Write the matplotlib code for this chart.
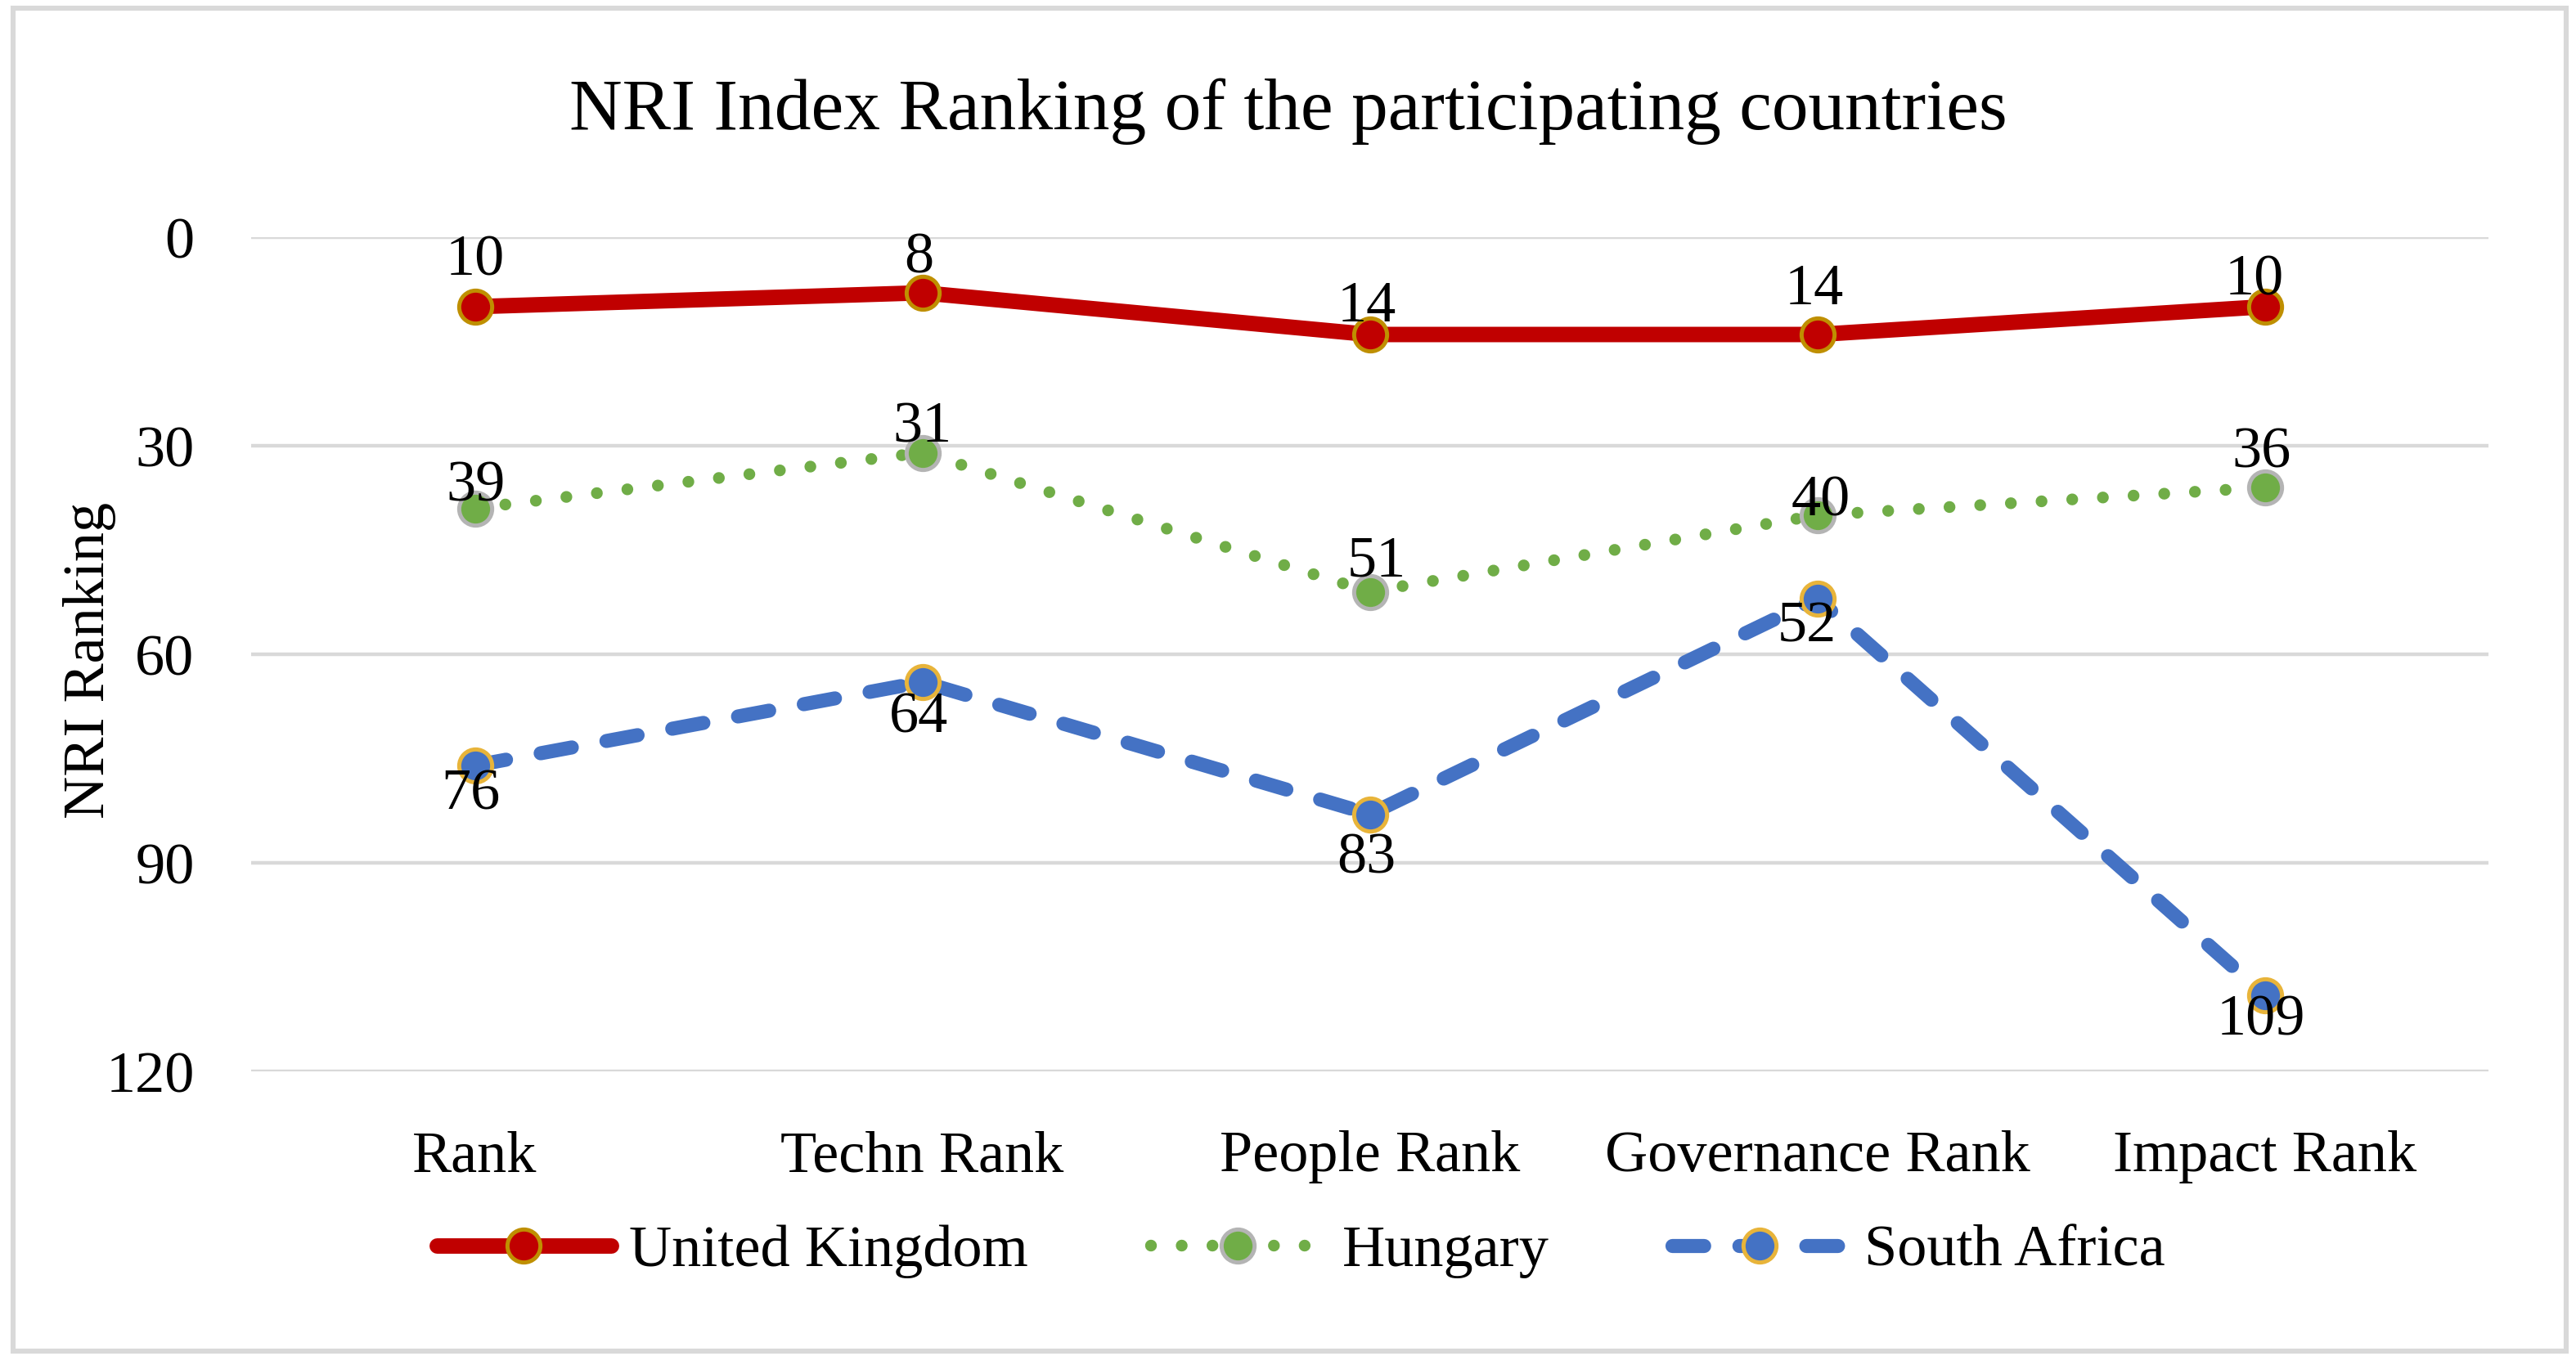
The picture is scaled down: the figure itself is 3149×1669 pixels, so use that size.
import matplotlib
matplotlib.use("Agg")
import matplotlib.pyplot as plt
from matplotlib.patches import Rectangle

categories = ["Rank", "Techn Rank", "People Rank", "Governance Rank", "Impact Rank"]
series_names = ["United Kingdom", "Hungary", "South Africa"]
uk_values = [10, 8, 14, 14, 10]
hu_values = [39, 31, 51, 40, 36]
sa_values = [76, 64, 83, 52, 109]
y_ticks = [0, 30, 60, 90, 120]

# label offsets in points (layout only)
uk_dx = [0, -1.5, -1.5, -1.5, -4.5]
uk_dy = [20, 15, 12, 19.5, 11.5]
hu_dx = [0.5, 0, 3, 1.5, -1.5]
hu_dy = [9.5, 11, 13, 6, 15]
sa_dx = [-2, -1.5, -1.5, -4.5, -1.5]
sa_dy = [-13, -16, -19.5, -12.5, -11.5]

FONT = ["Liberation Serif", "DejaVu Serif"]
plt.rcParams["font.family"] = FONT
FS = 26
MS = 14.5

W, H = 3149, 1669
DPI = 200
fig = plt.figure(figsize=(W / DPI, H / DPI), dpi=DPI)
fig.patch.set_facecolor("white")

# outer chart border
fig.patches.append(Rectangle((16 / W, 1 - 1652 / H), (3137 - 16) / W, (1652 - 10) / H,
                             transform=fig.transFigure, fill=False,
                             edgecolor="#D9D9D9", linewidth=2.2))

ax = fig.add_axes([307 / W, 1 - 1310 / H, (3042 - 307) / W, (1310 - 290) / H])
x = list(range(len(categories)))

ax.plot(x, uk_values, color="#C00000", linewidth=6.8, solid_capstyle="round",
        solid_joinstyle="round", marker="o", markersize=MS,
        markerfacecolor="#C00000", markeredgecolor="#BF8F00", markeredgewidth=1.8,
        label=series_names[0], zorder=4)
ax.plot(x, hu_values, color="#70AD47", linewidth=5.2, linestyle=(0, (0.001, 2.6)),
        dash_capstyle="round", marker="o", markersize=MS,
        markerfacecolor="#70AD47", markeredgecolor="#B4B4B4", markeredgewidth=1.8,
        label=series_names[1], zorder=3)
ax.plot(x, sa_values, color="#4472C4", linewidth=6.2, linestyle=(0, (2.25, 2.5)),
        dash_capstyle="round", marker="o", markersize=MS,
        markerfacecolor="#4472C4", markeredgecolor="#E8B43A", markeredgewidth=1.8,
        label=series_names[2], zorder=3)

for vals, dxs, dys in [(uk_values, uk_dx, uk_dy), (hu_values, hu_dx, hu_dy),
                       (sa_values, sa_dx, sa_dy)]:
    for xi, v, dx, dy in zip(x, vals, dxs, dys):
        ax.annotate(str(v), (xi, v), xytext=(dx, dy), textcoords="offset points",
                    ha="center", va="center", fontsize=FS, color="black", zorder=6)

ax.set_xlim(-0.5, len(categories) - 0.5)
ax.set_ylim(120, 0)
ax.set_yticks(y_ticks)
ax.set_yticklabels([str(t) for t in y_ticks])
ax.set_xticks(x)
ax.set_xticklabels(categories)
ax.tick_params(axis="both", length=0, labelsize=FS)
ax.tick_params(axis="y", pad=25)
ax.tick_params(axis="x", pad=26)
ax.yaxis.grid(True, color="#D9D9D9", linewidth=1.6)
ax.set_axisbelow(True)
for s in ax.spines.values():
    s.set_visible(False)

fig.text(110 / W, 0.5165, "NRI Ranking", rotation=90, ha="center", va="center",
         fontsize=FS)
fig.text(0.5, 1 - 158 / H, "NRI Index Ranking of the participating countries",
         ha="center", va="baseline", fontsize=32.2)

leg = ax.legend(loc="center", bbox_to_anchor=(0.505, 1 - 1530 / H),
                bbox_transform=fig.transFigure, ncol=3, frameon=False,
                fontsize=FS, handlelength=2.95, handletextpad=0.3,
                columnspacing=2.08, borderaxespad=0)

fig.savefig("out.png", dpi=DPI, facecolor="white")
